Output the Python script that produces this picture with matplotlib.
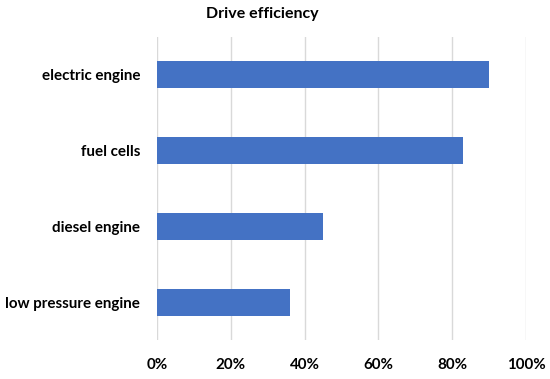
import matplotlib.pyplot as plt
from matplotlib.ticker import PercentFormatter

categories = ["low pressure engine", "diesel engine", "fuel cells", "electric engine"]
efficiency = [0.36, 0.45, 0.83, 0.90]
x_ticks = [0, 0.2, 0.4, 0.6, 0.8, 1.0]

plt.rcParams["font.family"] = ["Lato", "DejaVu Sans"]
plt.rcParams["font.weight"] = "bold"

fig = plt.figure(figsize=(5.5, 3.79), dpi=100)
ax = fig.add_axes([157 / 550, 1 - 340 / 379, (526 - 157) / 550, (340 - 37) / 379])

ax.barh(categories, efficiency, height=0.355, color="#4472C4", zorder=3)

ax.set_xlim(0, 1.0)
ax.set_ylim(-0.5, 3.5)
ax.set_xticks(x_ticks)
ax.xaxis.set_major_formatter(PercentFormatter(1.0, decimals=0))
ax.grid(axis="x", color="#D9D9D9", linewidth=1, zorder=0)
for s in ax.spines.values():
    s.set_visible(False)
ax.tick_params(axis="both", length=0, labelsize=10.9, colors="black")
ax.tick_params(axis="x", pad=13)
ax.tick_params(axis="y", pad=12)
for lbl in ax.get_xticklabels() + ax.get_yticklabels():
    lbl.set_fontweight("bold")

fig.text(262 / 550, 1 - 14 / 379, "Drive efficiency", ha="center", va="center",
         fontsize=11.5, fontweight="bold")

fig.savefig("out.png", dpi=100)
